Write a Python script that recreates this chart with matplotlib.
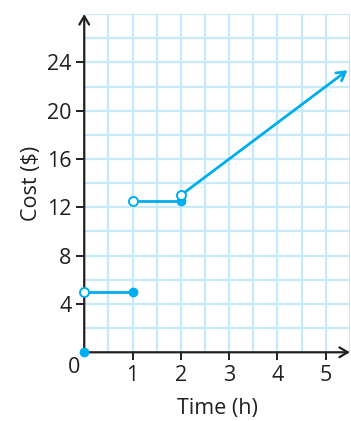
# Step function chart: cost of renting vs time
import numpy as np
import matplotlib.pyplot as plt

plt.rcParams['font.family'] = ['Open Sans', 'DejaVu Sans']

# data
seg_x = [[0, 1], [1, 2]]
seg_y = [[5, 5], [12.5, 12.5]]
open_x = [0, 1, 2]
open_y = [5, 12.5, 13]
closed_x = [0, 1, 2]
closed_y = [0, 5, 12.5]
ray_start = (2, 13)
ray_end = (5.45, 23.35)
xticks = [1, 2, 3, 4, 5]
yticks = [4, 8, 12, 16, 20, 24]

blue = '#00aeef'
grid_col = '#c8e9f9'
axis_col = '#231f20'
fs = 15.5

fig = plt.figure(figsize=(3.51, 4.21), dpi=100)
ax = fig.add_axes([0.240, 0.1632, 0.757, 0.8035])
ax.set_xlim(0, 5.5)
ax.set_ylim(0, 28)

# grid every half hour / every 2 dollars
for gx in np.arange(0.5, 5.51, 0.5):
    ax.axvline(gx, color=grid_col, lw=1.6, zorder=0)
for gy in np.arange(2, 28.1, 2):
    ax.axhline(gy, color=grid_col, lw=1.6, zorder=0)

for s in ax.spines.values():
    s.set_visible(False)

# axes with arrows
ax.annotate('', xy=(5.5, 0), xytext=(0, 0), annotation_clip=False,
            arrowprops=dict(arrowstyle='->,head_length=0.6,head_width=0.35',
                            color=axis_col, lw=1.6, shrinkA=0, shrinkB=0))
ax.annotate('', xy=(0, 28), xytext=(0, 0), annotation_clip=False,
            arrowprops=dict(arrowstyle='->,head_length=0.6,head_width=0.35',
                            color=axis_col, lw=1.6, shrinkA=0, shrinkB=0))

ax.set_xticks(xticks)
ax.set_yticks(yticks)
ax.tick_params(axis='both', colors=axis_col, width=1.4, length=6, labelsize=fs,
               pad=3)
ax.text(-0.22, -1.3, '0', fontsize=fs, color=axis_col, ha='center', va='center')

ax.set_xlabel('Time (h)', fontsize=fs, color=axis_col, labelpad=9)
ax.set_ylabel('Cost ($)', fontsize=fs, color=axis_col, labelpad=4)

# the line
for xs, ys in zip(seg_x, seg_y):
    ax.plot(xs, ys, color=blue, lw=2, zorder=3, clip_on=False)
ax.annotate('', xy=ray_end, xytext=ray_start, annotation_clip=False,
            arrowprops=dict(arrowstyle='->,head_length=0.6,head_width=0.35',
                            color=blue, lw=2, shrinkA=0, shrinkB=0), zorder=3)
ax.plot(closed_x, closed_y, 'o', color=blue, ms=6, zorder=5, clip_on=False)
ax.plot(open_x, open_y, 'o', mfc='white', mec=blue, mew=1.4, ms=6.5, zorder=6,
        clip_on=False)

fig.savefig('out.png', dpi=100)
